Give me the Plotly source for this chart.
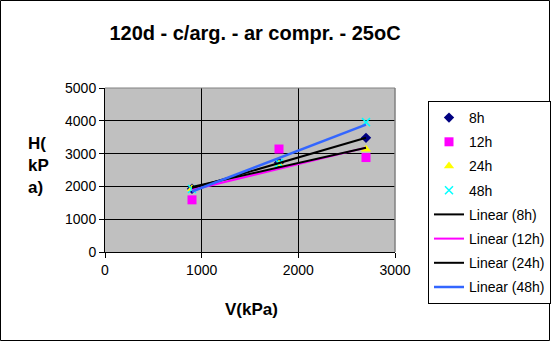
import numpy as np
import plotly.graph_objects as go

x_vals = [900, 1800, 2700]
h_8h = [1930, 2720, 3480]
h_12h = [1590, 3140, 2880]
h_24h = [1930, 2680, 3130]
h_48h = [1920, 2710, 3960]
series_names = ["8h", "12h", "24h", "48h"]
x_ticks = [0, 1000, 2000, 3000]
y_ticks = [0, 1000, 2000, 3000, 4000, 5000]

FONT = "Liberation Sans, Arial, sans-serif"
W, H = 551, 342
L, R, T, B = 105, 156, 88, 90
pw, ph = W - L - R, H - T - B

fig = go.Figure()

marker_styles = [
    dict(symbol="diamond", color="#000080", size=8),
    dict(symbol="square", color="#FF00FF", size=9),
    dict(symbol="triangle-up", color="#FFFF00", size=9),
    dict(symbol="x-thin", color="#00FFFF", size=8, line=dict(color="#00FFFF", width=1.5)),
]
data = [h_8h, h_12h, h_24h, h_48h]

for i, (name, ys, ms) in enumerate(zip(series_names, data, marker_styles)):
    fig.add_trace(go.Scatter(x=x_vals, y=ys, mode="markers", name=name,
                             marker=ms, legendgroup=f"g{i}"))

line_colors = ["#000000", "#FF00FF", "#000000", "#3366FF"]
line_widths = [2, 2, 2, 2.5]
for i, (name, ys) in enumerate(zip(series_names, data)):
    k, c = np.polyfit(x_vals, ys, 1)
    xs = [x_vals[0], x_vals[-1]]
    fig.add_trace(go.Scatter(x=xs, y=[k * v + c for v in xs], mode="lines",
                             name=f"Linear ({name})",
                             line=dict(color=line_colors[i], width=line_widths[i]),
                             legendgroup=f"l{i}"))

def px_x(p):
    return (p - L) / pw

def px_y(p):
    return (H - B - p) / ph

fig.update_layout(
    width=W, height=H,
    margin=dict(l=L, r=R, t=T, b=B),
    paper_bgcolor="white",
    plot_bgcolor="#C0C0C0",
    font=dict(family=FONT, size=14, color="black"),
    title=dict(text="<b>120d - c/arg. - ar compr. - 25oC</b>", x=255 / W, xanchor="center",
               y=1 - 33 / H, yanchor="middle", font=dict(size=20)),
    showlegend=True,
    legend=dict(x=428 / W, xref="container", xanchor="left",
                y=1 - 101 / H, yref="container", yanchor="top",
                bgcolor="white", bordercolor="black", borderwidth=1,
                tracegroupgap=3, font=dict(size=14), itemwidth=30,
                maxheight=230),
    xaxis=dict(range=[0, 3000], tickvals=x_ticks, showgrid=True, gridcolor="black",
               gridwidth=1, showline=True, linecolor="black", linewidth=1,
               ticks="outside", ticklen=5, tickcolor="black", zeroline=False,
               mirror=False, tickfont=dict(size=14)),
    yaxis=dict(range=[0, 5000], tickvals=y_ticks, showgrid=True, gridcolor="black",
               gridwidth=1, showline=True, linecolor="black", linewidth=1,
               ticks="outside", ticklen=5, tickcolor="black", zeroline=False,
               tickfont=dict(size=14)),
    annotations=[
        dict(text="<b>V(kPa)</b>", x=px_x(251), y=px_y(309), xref="paper", yref="paper",
             showarrow=False, font=dict(size=17), xanchor="center", yanchor="middle"),
        dict(text="<b>H(<br>kP<br>a)</b>", x=px_x(38), y=px_y(165), xref="paper", yref="paper",
             showarrow=False, font=dict(size=17), xanchor="center", yanchor="middle",
             align="left"),
    ],
    shapes=[
        dict(type="rect", xref="paper", yref="paper", x0=px_x(0.5), x1=px_x(549.5),
             y0=px_y(340.5), y1=px_y(0.5), line=dict(color="black", width=1)),
        dict(type="line", xref="paper", yref="paper", x0=1, x1=1, y0=0, y1=1,
             line=dict(color="#808080", width=1.5)),
        dict(type="line", xref="paper", yref="paper", x0=0, x1=1, y0=1, y1=1,
             line=dict(color="#808080", width=1)),
    ],
)

fig.write_html("out.html")
